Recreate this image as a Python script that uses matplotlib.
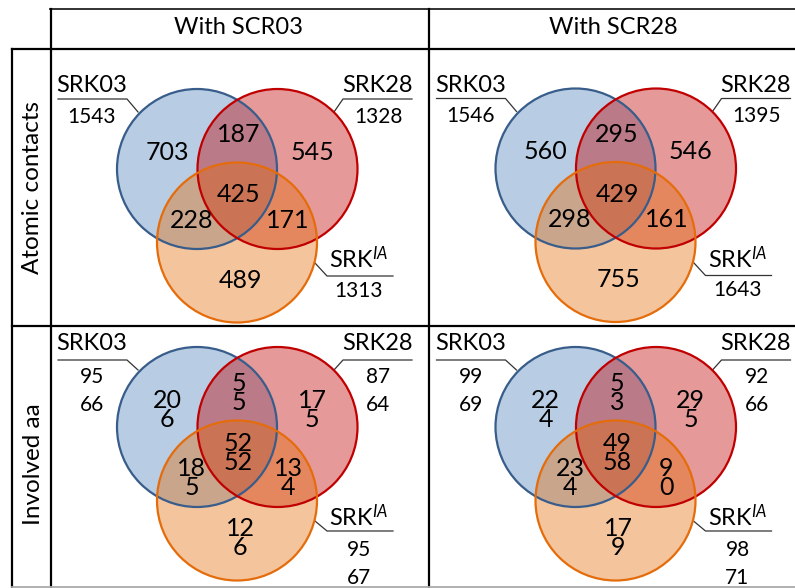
import matplotlib.pyplot as plt
from matplotlib.patches import Circle

plt.rcParams['font.family'] = ['Lato', 'DejaVu Sans']
plt.rcParams['mathtext.fontset'] = 'custom'
plt.rcParams['mathtext.rm'] = 'Lato'
plt.rcParams['mathtext.it'] = 'Lato:italic'

# column / row headings
col_titles = ["With SCR03", "With SCR28"]
row_titles = ["Atomic contacts", "Involved aa"]
set_names = ["SRK03", "SRK28", "SRK$^{IA}$"]

# region counts: A only, A&B, B only, A&B&C, A&C, B&C, C only
contacts_scr03 = [703, 187, 545, 425, 228, 171, 489]
contacts_scr28 = [560, 295, 546, 429, 298, 161, 755]
totals_contacts_scr03 = [1543, 1328, 1313]
totals_contacts_scr28 = [1546, 1395, 1643]

# involved residues: receptor side (top) / ligand side (bottom)
aa_scr03_top = [20, 5, 17, 52, 18, 13, 12]
aa_scr03_bot = [6, 5, 5, 52, 5, 4, 6]
aa_scr28_top = [22, 5, 29, 49, 23, 9, 17]
aa_scr28_bot = [4, 3, 5, 58, 4, 0, 9]
totals_aa_scr03_top = [95, 87, 95]
totals_aa_scr03_bot = [66, 64, 67]
totals_aa_scr28_top = [99, 92, 98]
totals_aa_scr28_bot = [69, 66, 71]

W, H = 795, 588
fig = plt.figure(figsize=(W / 100, H / 100), dpi=100)
ax = fig.add_axes([0, 0, 1, 1])
ax.set_xlim(0, W)
ax.set_ylim(H, 0)
ax.axis('off')

# table grid
lw = 1.6
ax.plot([50, W], [9, 9], color='#222222', lw=1.3)
ax.plot([12, W], [48.5, 48.5], color='black', lw=lw)
ax.plot([12, W], [325.5, 325.5], color='black', lw=lw)
ax.plot([50.5, 50.5], [9, H], color='black', lw=lw)
ax.plot([12, 12], [48.5, H], color='black', lw=lw)
ax.plot([429, 429], [9, H], color='black', lw=lw)
ax.plot([12, W], [587, 587], color='#aaaaaa', lw=1.3)

ax.text(238, 27, col_titles[0], ha='center', va='center', fontsize=17)
ax.text(613, 27, col_titles[1], ha='center', va='center', fontsize=17)
ax.text(33, 187, row_titles[0], ha='center', va='center', fontsize=17.5, rotation=90)
ax.text(33, 464, row_titles[1], ha='center', va='center', fontsize=17.5, rotation=90)

R = 80
fills = ['#4F81BD', '#C00000', '#E46C0A']
edges = ['#385D8A', '#C00000', '#E46C0A']
centers = [(0, 0), (80.5, 0), (40, 73.5)]
region_pos = [(-30, -17), (41.5, -34), (115, -17), (41.5, 26),
              (-5.5, 51), (91, 51), (43, 111)]
fs_num = 18


def venn(bx, by, top, bot=None):
    for (dx, dy), fc, ec in zip(centers, fills, edges):
        ax.add_patch(Circle((bx + dx, by + dy), R, facecolor=fc, alpha=0.4,
                            edgecolor='none', zorder=2))
        ax.add_patch(Circle((bx + dx, by + dy), R, facecolor='none',
                            edgecolor=ec, lw=1.6, zorder=3))
    for i, (dx, dy) in enumerate(region_pos):
        if bot is None:
            label = str(top[i])
        else:
            label = f"{top[i]}\n{bot[i]}"
        ax.text(bx + dx, by + dy, label, ha='center', va='center',
                multialignment='center', linespacing=0.82,
                fontsize=fs_num, zorder=4)


def set_labels(bx, by, tot_a, tot_b=None, shift=0):
    lc = '#333333'
    # SRK03 label, upper left
    ax.text(bx - 105, by - 83, set_names[0], ha='center', va='center', fontsize=17)
    ax.plot([bx - 139, bx - 70, bx - 59], [by - 70 + shift, by - 70 + shift, by - 57],
            color=lc, lw=0.9)
    # SRK28 label, upper right
    ax.text(bx + 180, by - 83, set_names[1], ha='center', va='center', fontsize=17)
    ax.plot([bx + 215, bx + 146, bx + 137], [by - 70 + shift, by - 70 + shift, by - 57],
            color=lc, lw=0.9)
    # SRK^IA label, lower right
    ax.text(bx + 162, by + 90, set_names[2], ha='center', va='center', fontsize=17)
    ax.plot([bx + 118, bx + 130, bx + 196], [by + 94, by + 107 - shift, by + 107 - shift],
            color=lc, lw=0.9)
    xs = [bx - 105, bx + 181, bx + 162]
    if tot_b is None:
        ys = [by - 52, by - 52, by + 122]
        for x, y, v in zip(xs, ys, tot_a):
            ax.text(x, y, str(v), ha='center', va='center', fontsize=15)
    else:
        ys_a = [by - 50, by - 50, by + 123]
        for x, y, va_, vb in zip(xs, ys_a, tot_a, tot_b):
            ax.text(x, y + 14, f"{va_}\n{vb}", ha='center', va='center',
                    multialignment='center', linespacing=1.55, fontsize=15)


venn(197, 169, contacts_scr03)
set_labels(197, 169, totals_contacts_scr03)
venn(575.5, 168.5, contacts_scr28)
set_labels(575.5, 168.5, totals_contacts_scr28)
venn(197, 427, aa_scr03_top, aa_scr03_bot)
set_labels(197, 427, totals_aa_scr03_top, totals_aa_scr03_bot, shift=3)
venn(575.5, 427, aa_scr28_top, aa_scr28_bot)
set_labels(575.5, 427, totals_aa_scr28_top, totals_aa_scr28_bot, shift=3)

fig.savefig('out.png', dpi=100)
